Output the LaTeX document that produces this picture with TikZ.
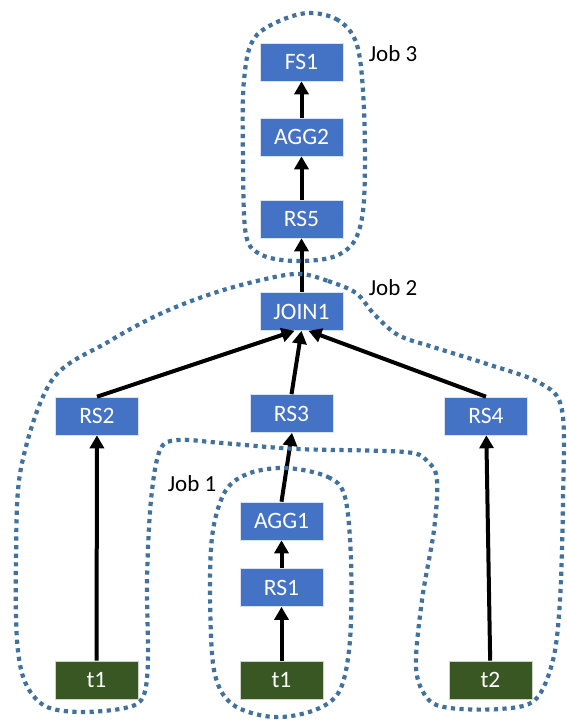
\documentclass[tikz,border=0pt]{standalone}
\usepackage{fontspec}
\setmainfont{Carlito}
\usetikzlibrary{arrows.meta}

\definecolor{opblue}{RGB}{68,114,196}
\definecolor{tblgreen}{RGB}{56,87,35}
\definecolor{jobline}{RGB}{65,113,156}

\begin{document}
\begin{tikzpicture}[
            x=1pt, y=-1pt,
            op/.style={fill=opblue, draw=white!80!opblue, line width=0.6pt,
                minimum width=83pt, minimum height=38pt, inner sep=0pt,
                text=white, font=\fontsize{23.5}{26}\selectfont},
            tbl/.style={op, fill=tblgreen, draw=white!75!tblgreen},
            flow/.style={line width=4pt, -{Triangle[width=14pt,length=13pt]}},
            job/.style={jobline, line width=4.2pt, dash pattern=on 4.2pt off 4.4pt,
                smooth cycle, tension=0.55},
            joblabel/.style={font=\fontsize{23}{26}\selectfont}
        ]
            \useasboundingbox (0,0) rectangle (566,720);

            % job 3
            \node[op] (fs1) at (301.5,62) {FS1};
            \node[op] (agg2) at (301.5,137) {AGG2};
            \node[op] (rs5) at (301.5,219) {RS5};

            % job 2
            \node[op] (join1) at (301.5,311.5) {JOIN1};
            \node[op] (rs2) at (97,416) {RS2};
            \node[op] (rs3) at (291.5,413.5) {RS3};
            \node[op] (rs4) at (486,416) {RS4};

            % job 1
            \node[op] (agg1) at (281.5,521) {AGG1};
            \node[op] (rs1) at (281.5,587.5) {RS1};

            % tables
            \node[tbl] (t1a) at (96.5,680) {t1};
            \node[tbl] (t1b) at (281.5,680) {t1};
            \node[tbl] (t2) at (490.5,680) {t2};

            \draw[flow] (agg2) -- (fs1);
            \draw[flow] (rs5) -- (agg2);
            \draw[flow] (join1) -- (rs5);
            \draw[flow] (rs2.north) -- ([xshift=-7pt]join1.south);
            \draw[flow] (rs3.north) -- (join1.south);
            \draw[flow] (rs4.north) -- ([xshift=7pt]join1.south);
            \draw[flow] (agg1.north) -- ([xshift=0.5pt]rs3.south);
            \draw[flow] (rs1) -- (agg1);
            \draw[flow] (t1b) -- (rs1);
            \draw[flow] (t1a) -- (rs2);
            \draw[flow] (t2) -- (rs4);

            % dotted job outlines
            \draw[job] plot coordinates {(300,14) (336,19) (357,45) (364,110) (364,200)
                (355,240) (333,257) (295,261) (262,255) (246,235) (243,160) (244,80) (256,36)};
            \draw[job] plot coordinates {(301,274) (328,281) (356,293) (374,314) (398,335)
                (433,347) (487,364) (540,383) (562,410) (563,500) (560,600) (553,660)
                (535,700) (500,709) (450,708) (428,699) (416,668) (422,600) (434,530)
                (437,480) (428,462) (405,452) (297,449) (222,443) (178,440) (160,450)
                (151,500) (147,580) (148,660) (143,697) (125,708) (80,712) (45,706)
                (25,682) (17,640) (16,560) (21,468) (52,380) (108,342) (162,313)
                (217,292) (270,278)};
            \draw[job] plot coordinates {(287,468) (328,477) (345,497) (351,560) (350,640)
                (340,690) (315,710) (273,717) (232,704) (214,670) (210,590) (213,530)
                (226,490) (250,473)};

            \node[joblabel] (job3) at (393,54) {Job 3};
            \node[joblabel] (job2) at (393,288) {Job 2};
            \node[joblabel] (job1) at (192,484) {Job 1};
        \end{tikzpicture}
\end{document}
